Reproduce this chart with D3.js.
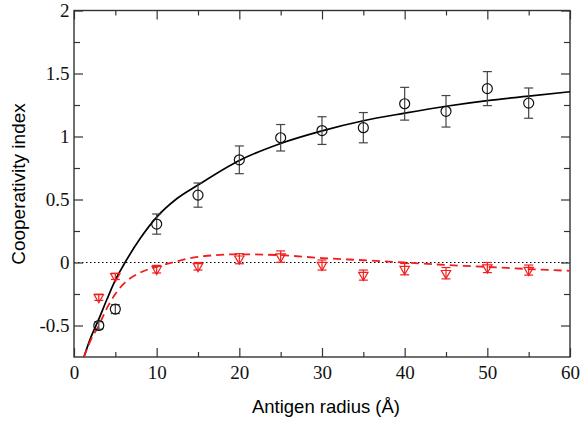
<!DOCTYPE html>
<html>
<head>
<meta charset="utf-8">
<script src="https://d3js.org/d3.v7.min.js"></script>
<style>
  body { margin: 0; background: #fff; }
  .tick text { font-family: "Liberation Serif", "Times New Roman", serif; font-size: 19px; fill: #111; }
  .tick line { stroke: #333; stroke-width: 1.2; }
  .domain { display: none; }
</style>
</head>
<body>
<div id="chart"></div>
<script>

// measured points (black circles)
var xBlack = [3, 5, 10, 15, 20, 25, 30, 35, 40, 45, 50, 55];
var yBlack = [-0.5, -0.37, 0.305, 0.535, 0.815, 0.99, 1.047, 1.07, 1.26, 1.20, 1.38, 1.265];
var eBlack = [0.03, 0.035, 0.08, 0.096, 0.11, 0.105, 0.11, 0.12, 0.13, 0.125, 0.135, 0.12];

// measured points (red triangles)
var xRed = [3, 5, 10, 15, 20, 25, 30, 35, 40, 45, 50, 55];
var yRed = [-0.276, -0.11, -0.053, -0.03, 0.03, 0.047, -0.02, -0.1, -0.053, -0.085, -0.04, -0.06];
var eRed = [0.025, 0.025, 0.03, 0.03, 0.04, 0.045, 0.04, 0.04, 0.045, 0.045, 0.04, 0.04];

// fitted curves
var fitX = [1.2, 2, 3, 4, 5, 6, 8, 10, 12.5, 15, 20, 25, 30, 35, 40, 45, 50, 55, 60];
var fitBlack = [-0.75, -0.6, -0.45, -0.29, -0.14, -0.02, 0.19, 0.36, 0.51, 0.615, 0.81, 0.945, 1.045, 1.125, 1.185, 1.24, 1.285, 1.32, 1.355];
var fitRed = [-0.75, -0.62, -0.5, -0.36, -0.25, -0.17, -0.08, -0.035, 0.01, 0.045, 0.065, 0.058, 0.035, 0.018, 0.0, -0.02, -0.035, -0.052, -0.066];

// ticks
var xTicks = [0, 10, 20, 30, 40, 50, 60];
var xMinor = [5, 15, 25, 35, 45, 55];
var yTicks = [-0.5, 0, 0.5, 1, 1.5, 2];
var yMinor = [-0.25, 0.25, 0.75, 1.25, 1.75];

var width = 581, height = 423;
var margin = { left: 74, right: 570, top: 10.5, bottom: 357 };

var svg = d3.select("#chart").append("svg")
  .attr("width", width)
  .attr("height", height);

var x = d3.scaleLinear().domain([0, 60]).range([margin.left, margin.right]);
var y = d3.scaleLinear().domain([-0.75, 2]).range([margin.bottom, margin.top]);

// zero line
svg.append("line")
  .attr("x1", x(0)).attr("x2", x(60))
  .attr("y1", y(0)).attr("y2", y(0))
  .attr("stroke", "#000")
  .attr("stroke-width", 1.2)
  .attr("stroke-dasharray", "1.5,2.5");

// axes (ticks pointing inward)
svg.append("g")
  .attr("transform", "translate(0," + margin.bottom + ")")
  .call(d3.axisBottom(x).tickValues(xTicks).tickSize(-9).tickPadding(9).tickFormat(d3.format("d")))
  .selectAll("text").attr("dy", "0.71em");
svg.append("g")
  .attr("transform", "translate(0," + margin.bottom + ")")
  .call(d3.axisBottom(x).tickValues(xMinor).tickSize(-5).tickFormat(""));
svg.append("g")
  .attr("transform", "translate(0," + margin.top + ")")
  .call(d3.axisTop(x).tickValues(xTicks).tickSize(-9).tickFormat(""));
svg.append("g")
  .attr("transform", "translate(0," + margin.top + ")")
  .call(d3.axisTop(x).tickValues(xMinor).tickSize(-5).tickFormat(""));

svg.append("g")
  .attr("transform", "translate(" + margin.left + ",0)")
  .call(d3.axisLeft(y).tickValues(yTicks).tickSize(-9).tickPadding(4.5)
    .tickFormat(function (d) { return String(d); }))
  .selectAll("text").attr("dy", "0.34em");
svg.append("g")
  .attr("transform", "translate(" + margin.left + ",0)")
  .call(d3.axisLeft(y).tickValues(yMinor).tickSize(-6).tickFormat(""));
svg.append("g")
  .attr("transform", "translate(" + margin.right + ",0)")
  .call(d3.axisRight(y).tickValues(yTicks).tickSize(-9).tickFormat(""));
svg.append("g")
  .attr("transform", "translate(" + margin.right + ",0)")
  .call(d3.axisRight(y).tickValues(yMinor).tickSize(-6).tickFormat(""));

// frame
svg.append("rect")
  .attr("x", margin.left).attr("y", margin.top)
  .attr("width", margin.right - margin.left).attr("height", margin.bottom - margin.top)
  .attr("fill", "none")
  .attr("stroke", "#333")
  .attr("stroke-width", 1.4);

// fit lines
var fitLine = function (vals) {
  return d3.line()
    .x(function (d, i) { return x(fitX[i]); })
    .y(function (d) { return y(d); })
    .curve(d3.curveMonotoneX)(vals);
};

svg.append("path")
  .attr("d", fitLine(fitBlack))
  .attr("fill", "none")
  .attr("stroke", "#000")
  .attr("stroke-width", 1.7);

svg.append("path")
  .attr("d", fitLine(fitRed))
  .attr("fill", "none")
  .attr("stroke", "#f21d1d")
  .attr("stroke-width", 1.8)
  .attr("stroke-dasharray", "8,5");

// error bars
function errorBars(xs, ys, es, color) {
  var g = svg.append("g").attr("stroke", color).attr("stroke-width", 1.2);
  xs.forEach(function (xv, i) {
    var cx = x(xv), y1 = y(ys[i] - es[i]), y2 = y(ys[i] + es[i]);
    g.append("line").attr("x1", cx).attr("x2", cx).attr("y1", y1).attr("y2", y2);
    g.append("line").attr("x1", cx - 4.5).attr("x2", cx + 4.5).attr("y1", y1).attr("y2", y1);
    g.append("line").attr("x1", cx - 4.5).attr("x2", cx + 4.5).attr("y1", y2).attr("y2", y2);
  });
}

errorBars(xBlack, yBlack, eBlack, "#444");
errorBars(xRed, yRed, eRed, "#f21d1d");

// markers
svg.append("g").selectAll("circle")
  .data(xBlack)
  .enter()
  .append("circle")
  .attr("cx", function (d) { return x(d); })
  .attr("cy", function (d, i) { return y(yBlack[i]); })
  .attr("r", 5)
  .attr("fill", "none")
  .attr("stroke", "#111")
  .attr("stroke-width", 1.2);

svg.append("g").selectAll("path")
  .data(xRed)
  .enter()
  .append("path")
  .attr("d", d3.symbol(d3.symbolTriangle, 38))
  .attr("transform", function (d, i) { return "translate(" + x(d) + "," + y(yRed[i]) + ") rotate(180)"; })
  .attr("fill", "none")
  .attr("stroke", "#f21d1d")
  .attr("stroke-width", 1.2);

// axis titles
svg.append("text")
  .attr("x", 326)
  .attr("y", 413)
  .attr("text-anchor", "middle")
  .style("font-family", "Liberation Sans, Arial, sans-serif")
  .style("font-size", "18.5px")
  .text("Antigen radius (Å)");

svg.append("text")
  .attr("transform", "translate(25,184) rotate(-90)")
  .attr("text-anchor", "middle")
  .style("font-family", "Liberation Sans, Arial, sans-serif")
  .style("font-size", "19px")
  .text("Cooperativity index");

</script>
</body>
</html>
